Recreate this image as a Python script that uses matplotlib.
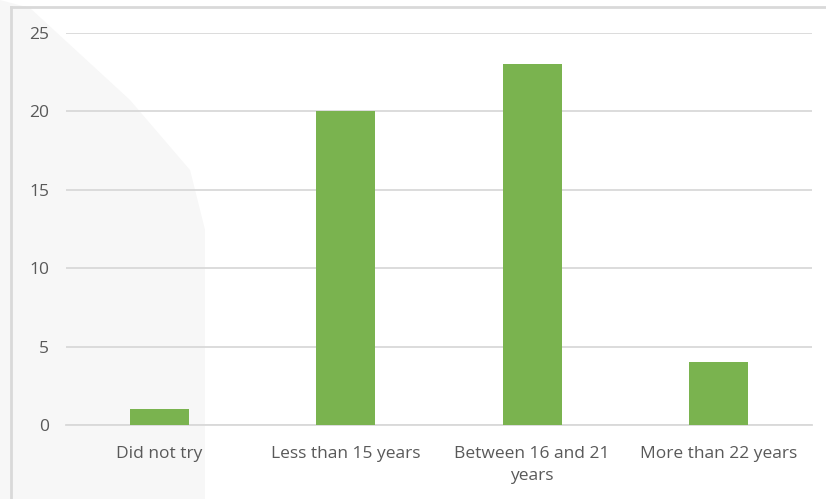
import matplotlib.pyplot as plt
from matplotlib.lines import Line2D
from matplotlib.patches import Polygon
import numpy as np

categories = ['Did not try', 'Less than 15 years', 'Between 16 and 21\nyears', 'More than 22 years']
values = [1, 20, 23, 4]
yticks = [0, 5, 10, 15, 20, 25]

W, H = 826, 499
fig = plt.figure(figsize=(W / 100, H / 100), dpi=100)
fig.patch.set_facecolor('white')

# faint scan shadow on the left side
shade = Polygon([(0, 1), (30 / W, 1 - 8 / H), (130 / W, 1 - 100 / H), (190 / W, 1 - 170 / H),
                 (205 / W, 1 - 230 / H), (205 / W, 0), (0, 0)],
                closed=True, transform=fig.transFigure, facecolor='#f7f7f7', edgecolor='none', zorder=0)
fig.patches.append(shade)

# chart border (only top and left visible)
fig.add_artist(Line2D([11 / W, 11 / W], [0, 1 - 7 / H], transform=fig.transFigure, color='#d9d9d9', lw=2))
fig.add_artist(Line2D([11 / W, 1], [1 - 7 / H, 1 - 7 / H], transform=fig.transFigure, color='#d9d9d9', lw=2))

ax = fig.add_axes([66 / W, 1 - 425 / H, (812 - 66) / W, (425 - 33) / H])
ax.set_facecolor('none')
ax.set_zorder(2)

x = np.arange(len(categories))
ax.bar(x, values, width=0.316, color='#7ab34f', zorder=3)

ax.set_xlim(-0.5, len(categories) - 0.5)
ax.set_ylim(0, 25)
ax.set_yticks(yticks)
ax.set_xticks(x)
ax.set_xticklabels(categories)
ax.grid(axis='y', color='#d9d9d9', lw=1.3, zorder=0)
ax.set_axisbelow(True)

for s in ['top', 'right', 'left']:
    ax.spines[s].set_visible(False)
ax.spines['bottom'].set_color('#d9d9d9')
ax.spines['bottom'].set_linewidth(1.3)

ax.tick_params(axis='both', length=0, colors='#595959', labelsize=12.5)
ax.tick_params(axis='y', pad=12)
ax.tick_params(axis='x', pad=15)
for lab in ax.get_xticklabels() + ax.get_yticklabels():
    lab.set_fontfamily('Open Sans')
    lab.set_color('#595959')
for lab in ax.get_xticklabels():
    lab.set_linespacing(1.5)

fig.savefig('out.png', dpi=100)
